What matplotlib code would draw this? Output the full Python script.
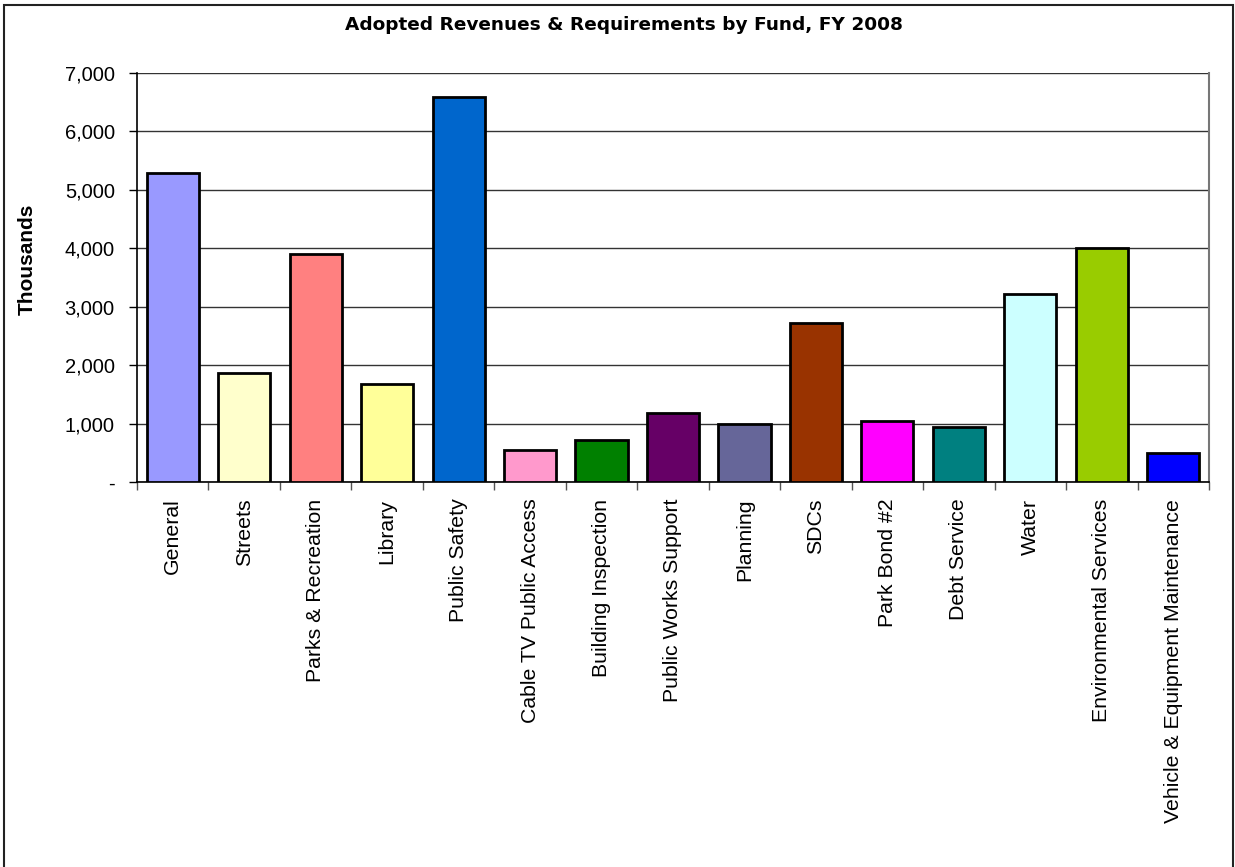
import numpy as np
import matplotlib
matplotlib.use('Agg')
import matplotlib.pyplot as plt
from matplotlib.patches import Rectangle
from matplotlib.ticker import FuncFormatter

funds = ['General', 'Streets', 'Parks & Recreation', 'Library', 'Public Safety',
         'Cable TV Public Access', 'Building Inspection', 'Public Works Support',
         'Planning', 'SDCs', 'Park Bond #2', 'Debt Service', 'Water',
         'Environmental Services', 'Vehicle & Equipment Maintenance']
amounts = [5280, 1870, 3895, 1675, 6580, 540, 715, 1185, 1000, 2720, 1045, 940,
           3215, 4000, 500]
colors = ['#9999FF', '#FFFFCC', '#FF8080', '#FFFF99', '#0066CC', '#FF99CC',
          '#008000', '#660066', '#666699', '#993300', '#FF00FF', '#008080',
          '#CCFFFF', '#99CC00', '#0000FF']
y_ticks = [0, 1000, 2000, 3000, 4000, 5000, 6000, 7000]

plt.rcParams['font.family'] = ['Liberation Sans', 'DejaVu Sans']

fig = plt.figure(figsize=(12.35, 8.67), dpi=100)
ax = fig.add_axes([137 / 1235, 1 - 482 / 867, (1209 - 137) / 1235, (482 - 72.7) / 867])

x = np.arange(len(funds))
ax.bar(x, amounts, width=0.73, color=colors, edgecolor='black', linewidth=2, zorder=3)

ax.set_xlim(-0.5, len(funds) - 0.5)
ax.set_ylim(0, 7000)
ax.set_yticks(y_ticks)
ax.yaxis.set_major_formatter(FuncFormatter(lambda v, p: '-' if v == 0 else f'{int(v):,}'))
ax.yaxis.grid(True, color='#333333', linewidth=1)
ax.set_axisbelow(True)

ax.set_xticks(x)
ax.set_xticklabels(funds, rotation=90, ha='center', va='top', fontsize=15.3)
ax.set_xticks(np.arange(-0.5, len(funds)), minor=True)
ax.tick_params(axis='x', which='major', length=0, pad=12)
ax.tick_params(axis='x', which='minor', length=6, width=1, color='#555555', direction='out')
ax.tick_params(axis='y', length=6, width=1, labelsize=14.5, pad=10)

for s in ['left', 'bottom']:
    ax.spines[s].set_color('black')
    ax.spines[s].set_linewidth(1.2)
ax.spines['top'].set_visible(False)
ax.spines['right'].set_color('#777777')
ax.spines['right'].set_linewidth(1.5)

fig.text(27 / 1235, 1 - 259 / 867, 'Thousands', rotation=90, ha='center', va='center',
         fontsize=15, fontweight='bold')
fig.text(624 / 1235, 1 - 25 / 867, 'Adopted Revenues & Requirements by Fund, FY 2008',
         ha='center', va='center', fontsize=13.3, fontweight='bold', family='DejaVu Sans')

# chart border
fig.patches.append(Rectangle((4 / 1235, -0.05), (1233 - 4) / 1235, 1.05 - 5 / 867,
                             transform=fig.transFigure, fill=False,
                             edgecolor='#222222', linewidth=1.5, clip_on=False))

fig.savefig('out.png', dpi=100)
